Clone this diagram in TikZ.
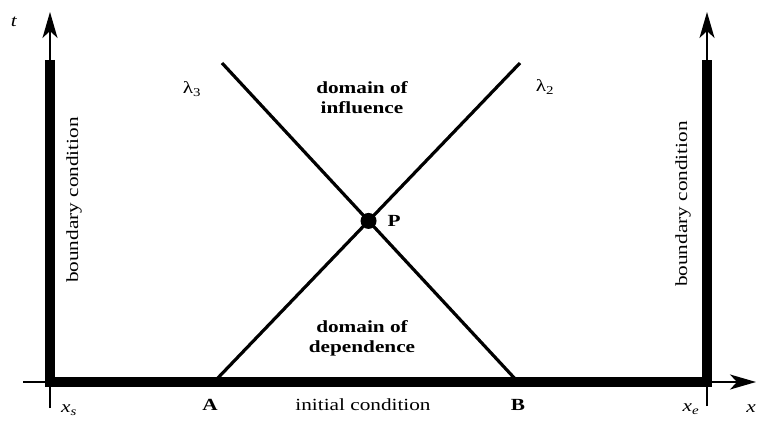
\documentclass[tikz,border=0pt]{standalone}
\usepackage{fontspec}
\setmainfont[FakeStretch=1.25]{Liberation Serif}
\usetikzlibrary{arrows.meta,positioning,calc}

\begin{document}
\begin{tikzpicture}[
    x=1pt, y=-1pt,
    >={Stealth[length=26pt,width=15pt,inset=7pt]},
    bcbar/.style={line width=10pt, line join=miter},
    axisline/.style={->, line width=2pt},
    charedge/.style={line width=3.2pt},
    txtlbl/.style={font=\fontsize{17}{20}\selectfont, inner sep=0pt, align=center},
    boldlbl/.style={txtlbl, font=\fontsize{17}{20}\selectfont\bfseries}
]
\useasboundingbox (0,0) rectangle (757,420);
% axes and boundaries
\coordinate (xs) at (50,382);
\coordinate (xe) at (707,382);
\coordinate (xsbar) at (50,60);
\coordinate (xebar) at (707,60);
\coordinate (tl) at (50,12);
\coordinate (tr) at (707,12);
\coordinate (xsfoot) at (50,408);
\coordinate (xefoot) at (707,406);
\coordinate (xstart) at (23,382);
\coordinate (xend) at (756,382);
\draw[bcbar] (xsbar) -- (xs) -- (xe) -- (xebar);
\draw[axisline] (xsfoot) -- (tl);
\draw[axisline] (xefoot) -- (tr);
\draw[axisline] (xstart) -- (xend);
% characteristics
\coordinate (A) at (214,382);
\coordinate (B) at (518,382);
\coordinate (L3) at (222,63);
\coordinate (L2) at (520,63);
\draw[charedge] (A) -- (L2);
\draw[charedge] (B) -- (L3);
\coordinate (P) at (intersection of A--L2 and B--L3);
\fill (P) circle (8pt);
% labels
\node[txtlbl] (tlbl) at (14,22) {\textit{t}};
\node[txtlbl] (xlbl) at (751,409) {\textit{x}};
\node[txtlbl] (xslbl) at (69,410) {\textit{x}\textsubscript{\textit{s}}};
\node[txtlbl] (xelbl) at (691,409) {\textit{x}\textsubscript{\textit{e}}};
\node[boldlbl] (Albl) at (210,405) {A};
\node[boldlbl] (Blbl) at (518,405) {B};
\node[txtlbl] (ic) at (363,405) {initial condition};
\node[boldlbl, right=19pt of P] (Plbl) {P};
\node[txtlbl] (l3lbl) at (192,89) {λ\textsubscript{3}};
\node[txtlbl] (l2lbl) at (545,87) {λ\textsubscript{2}};
\node[boldlbl] (infl) at (362,98) {domain of\\influence};
\node[boldlbl] (depd) at (362,338) {domain of\\dependence};
\node[txtlbl, rotate=90] (bcl) at (74,200) {boundary condition};
\node[txtlbl, rotate=90] (bcr) at (683,204) {boundary condition};
\end{tikzpicture}
\end{document}
